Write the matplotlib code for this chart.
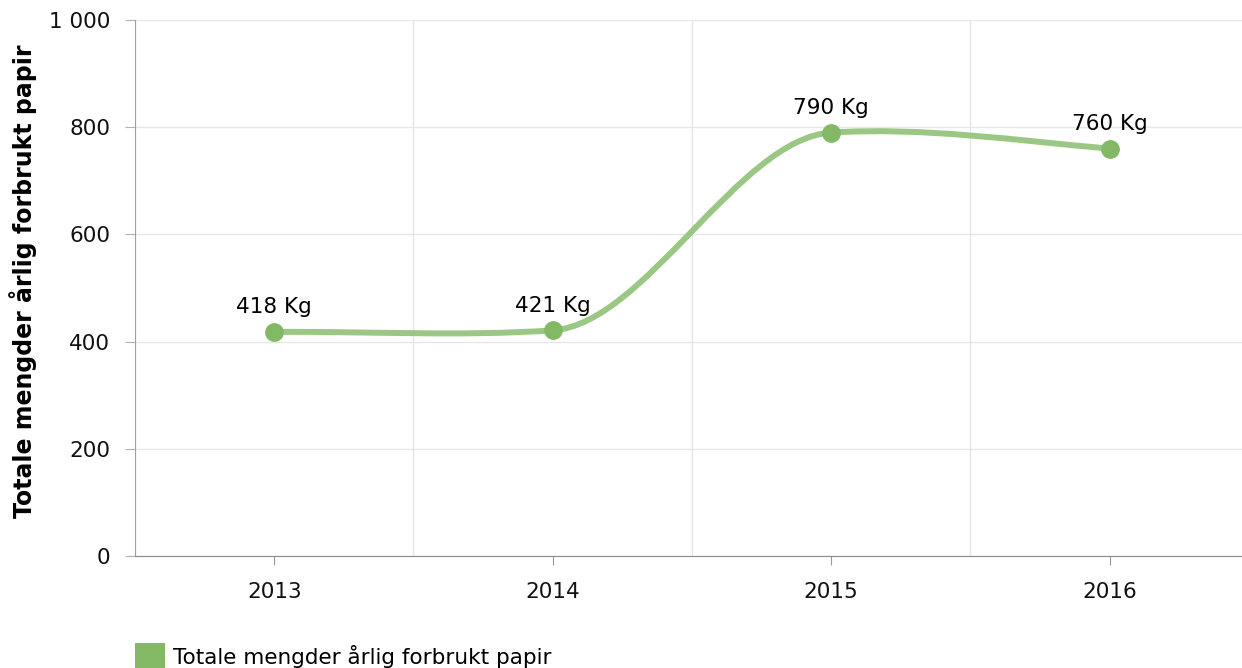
import numpy as np
import matplotlib
matplotlib.use("Agg")
import matplotlib.pyplot as plt
from matplotlib.path import Path
from matplotlib.patches import PathPatch, Rectangle

categories = ["2013", "2014", "2015", "2016"]
values = [418, 421, 790, 760]
labels = ["418 Kg", "421 Kg", "790 Kg", "760 Kg"]
series_name = "Totale mengder årlig forbrukt papir"
y_ticks = [0, 200, 400, 600, 800, 1000]
y_tick_labels = ["0", "200", "400", "600", "800", "1 000"]
y_title = "Totale mengder årlig forbrukt papir"

LINE_C = "#9bc784"
MARK_C = "#83b964"

plt.rcParams['font.family'] = ['DejaVu Sans']

W, H = 1242, 668
fig = plt.figure(figsize=(W / 100, H / 100), dpi=100)
ax = fig.add_axes([135 / W, 1 - 556 / H, (1242 - 135) / W, (556 - 20) / H])

xs = np.arange(len(values), dtype=float)
ys = np.array(values, dtype=float)


def smooth_path(x, y, tension=0.81):
    """Cubic Hermite spline in x with cardinal-style tangents, as Bezier segments."""
    n = len(x)
    m = np.zeros(n)
    for i in range(1, n - 1):
        m[i] = (1 - tension) * (y[i + 1] - y[i - 1]) / (x[i + 1] - x[i - 1])
    m[0] = 1.5 * (y[1] - y[0]) / (x[1] - x[0])
    m[-1] = 1.5 * (y[-1] - y[-2]) / (x[-1] - x[-2])
    verts = [(x[0], y[0])]
    codes = [Path.MOVETO]
    for i in range(1, n):
        h = x[i] - x[i - 1]
        c1 = (x[i - 1] + h / 3, y[i - 1] + m[i - 1] * h / 3)
        c2 = (x[i] - h / 3, y[i] - m[i] * h / 3)
        verts += [c1, c2, (x[i], y[i])]
        codes += [Path.CURVE4] * 3
    return Path(verts, codes)


path = smooth_path(xs, ys)
ax.add_patch(PathPatch(path, facecolor="none", edgecolor=LINE_C, lw=4.3,
                       capstyle="round", joinstyle="round", zorder=3))
ax.plot(xs, ys, linestyle="none", marker="o", markersize=12.5,
        markerfacecolor=MARK_C, markeredgecolor=MARK_C, zorder=4)

for xi, yi, lab in zip(xs, ys, labels):
    ax.annotate(lab, (xi, yi), xytext=(0, 10.5), textcoords="offset points",
                ha="center", va="bottom", fontsize=15.5, color="#000000", zorder=5)

ax.set_xlim(-0.5, 3.475)
ax.set_ylim(0, 1000)
ax.set_yticks(y_ticks)
ax.set_yticklabels(y_tick_labels)
ax.set_xticks(xs)
ax.set_xticklabels(categories)
ax.set_xticks(np.arange(-0.5, 3.5, 1.0), minor=True)

ax.grid(axis="y", which="major", color="#e6e6e6", lw=1)
ax.grid(axis="x", which="minor", color="#e6e6e6", lw=1)
ax.grid(axis="x", which="major", visible=False)
ax.set_axisbelow(True)

for s in ["top", "right"]:
    ax.spines[s].set_visible(False)
ax.spines["left"].set_color("#a0a0a0")
ax.spines["bottom"].set_color("#8a8a8a")
ax.tick_params(axis="y", length=7.2, color="#b0b0b0", labelsize=15.5, pad=10.5, labelcolor="#111111")
ax.tick_params(axis="x", which="major", length=6.5, color="#999999", labelsize=15.5, pad=12.5, labelcolor="#111111")
ax.tick_params(axis="x", which="minor", length=0)

fig.text(23 / W, 1 - 281 / H, y_title, rotation=90, ha="center", va="center",
         fontsize=17, fontweight="bold", color="#000000")

# legend
fig.patches.append(Rectangle((135 / W, 1 - 668 / H), 30 / W, 25 / H,
                             transform=fig.transFigure, facecolor=MARK_C, edgecolor="none"))
fig.text(173 / W, 1 - 656 / H, series_name, ha="left", va="center", fontsize=15.5, color="#000000")

fig.savefig("out.png", dpi=100)
